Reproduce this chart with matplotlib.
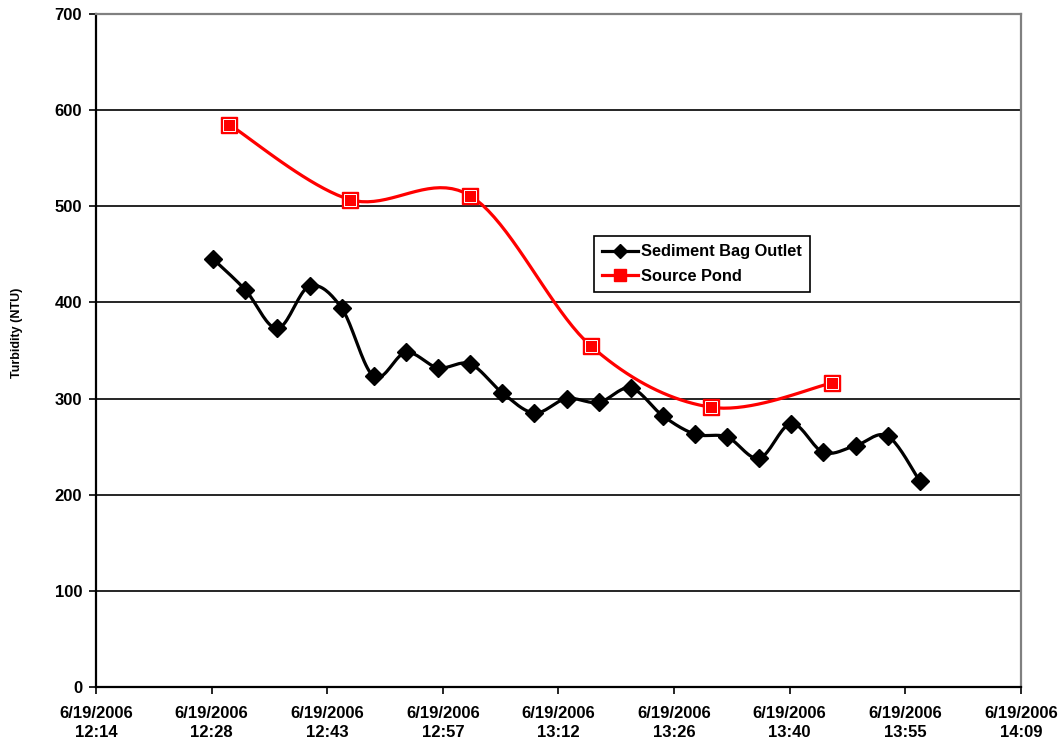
import numpy as np
import matplotlib
matplotlib.use("Agg")
import matplotlib.pyplot as plt
import matplotlib.dates as mdates
from datetime import datetime

# Sampling times and turbidity readings (NTU)
outlet_times = ["12:29", "12:33", "12:37", "12:41", "12:45", "12:49", "12:53", "12:57",
                "13:01", "13:05", "13:09", "13:13", "13:17", "13:21", "13:25", "13:29",
                "13:33", "13:37", "13:41", "13:45", "13:49", "13:53", "13:57"]
outlet_ntu = [445, 413, 373, 417, 394, 323, 348, 332, 336, 306, 285, 300, 296, 311,
              282, 263, 260, 238, 274, 244, 251, 261, 214]

pond_times = ["12:31", "12:46", "13:01", "13:16", "13:31", "13:46"]
pond_ntu = [585, 507, 511, 355, 291, 316]

day = datetime(2006, 6, 19)
x_ticks_frac = [0.51, 0.52, 0.53, 0.54, 0.55, 0.56, 0.57, 0.58, 0.59]
y_ticks = [0, 100, 200, 300, 400, 500, 600, 700]


def to_num(times):
    return np.array([mdates.date2num(datetime.strptime("2006-06-19 " + t, "%Y-%m-%d %H:%M"))
                     for t in times])


def smooth(x, y, steps=20):
    # Catmull-Rom curve through the points, like a spreadsheet "smoothed line"
    x = np.asarray(x, float)
    y = np.asarray(y, float)
    px = np.concatenate([[x[0]], x, [x[-1]]])
    py = np.concatenate([[y[0]], y, [y[-1]]])
    xs, ys = [], []
    t = np.linspace(0, 1, steps, endpoint=False)
    for i in range(1, len(px) - 2):
        p0, p1, p2, p3 = px[i - 1], px[i], px[i + 1], px[i + 2]
        q0, q1, q2, q3 = py[i - 1], py[i], py[i + 1], py[i + 2]
        c1x, c1y = p1 + (p2 - p0) / 6, q1 + (q2 - q0) / 6
        c2x, c2y = p2 - (p3 - p1) / 6, q2 - (q3 - q1) / 6
        b = [(1 - t) ** 3, 3 * (1 - t) ** 2 * t, 3 * (1 - t) * t ** 2, t ** 3]
        xs.extend(b[0] * p1 + b[1] * c1x + b[2] * c2x + b[3] * p2)
        ys.extend(b[0] * q1 + b[1] * c1y + b[2] * c2y + b[3] * q2)
    xs.append(x[-1])
    ys.append(y[-1])
    return np.array(xs), np.array(ys)


plt.rcParams['font.family'] = ['Liberation Sans', 'DejaVu Sans']
plt.rcParams['font.weight'] = 'bold'

fig = plt.figure(figsize=(10.61, 7.47), dpi=100)
ax = fig.add_axes([96 / 1061, 60 / 747, 925 / 1061, 673 / 747])

xo = to_num(outlet_times)
xp = to_num(pond_times)

sx, sy = smooth(xo, outlet_ntu)
ax.plot(sx, sy, color='black', lw=2.3, zorder=3, solid_capstyle='round')
ax.plot(xo, outlet_ntu, ls='none', marker='D', ms=9, color='black', zorder=4)

rx, ry = smooth(xp, pond_ntu)
ax.plot(rx, ry, color='#ff0000', lw=2.3, zorder=3, solid_capstyle='round')
ax.plot(xp, pond_ntu, ls='none', marker='s', ms=11, mfc='#ff0000', mec='#ff0000', zorder=4)
ax.plot(xp, pond_ntu, ls='none', marker='s', ms=8, mfc='none', mec='white', mew=0.7, zorder=5)

# legend handles
h1, = ax.plot([], [], color='black', lw=2.3, marker='D', ms=7)
h2, = ax.plot([], [], color='#ff0000', lw=2.3, marker='s', ms=9, mfc='#ff0000', mec='#ff0000')
leg = ax.legend([h1, h2], ["Sediment Bag Outlet", "Source Pond"],
                loc='upper left', bbox_to_anchor=(0.538, 0.670), fancybox=False,
                framealpha=1, edgecolor='black', fontsize=11.8, handlelength=2.2,
                borderpad=0.5, labelspacing=0.6, handletextpad=0.2, borderaxespad=0)
leg.get_frame().set_linewidth(1.2)

xt = [mdates.date2num(day) + f for f in x_ticks_frac]
ax.set_xlim(xt[0], xt[-1])
ax.set_ylim(0, 700)
ax.set_xticks(xt)
labels = []
for v in xt:
    d = mdates.num2date(v)
    labels.append(f"{d.month}/{d.day}/{d.year}\n{d.hour}:{d.minute:02d}")
ax.set_xticklabels(labels, fontsize=12, fontweight='bold', linespacing=1.3)
ax.set_yticks(y_ticks)
ax.set_yticklabels([str(v) for v in y_ticks], fontsize=12, fontweight='bold')
ax.tick_params(direction='out', length=5, width=1.2, colors='black')
ax.tick_params(axis='x', pad=9)
ax.tick_params(axis='y', pad=5)

for v in y_ticks[1:-1]:
    ax.axhline(v, color='black', lw=1.2, zorder=1)

ax.spines['left'].set_linewidth(1.6)
ax.spines['bottom'].set_linewidth(1.6)
for s in ['top', 'right']:
    ax.spines[s].set_color('#808080')
    ax.spines[s].set_linewidth(1.6)

fig.text(17 / 1061, 1 - 333 / 747, "Turbidity (NTU)", rotation=90, ha='center', va='center',
         fontsize=9, fontweight='bold')

fig.savefig("out.png", dpi=100)
